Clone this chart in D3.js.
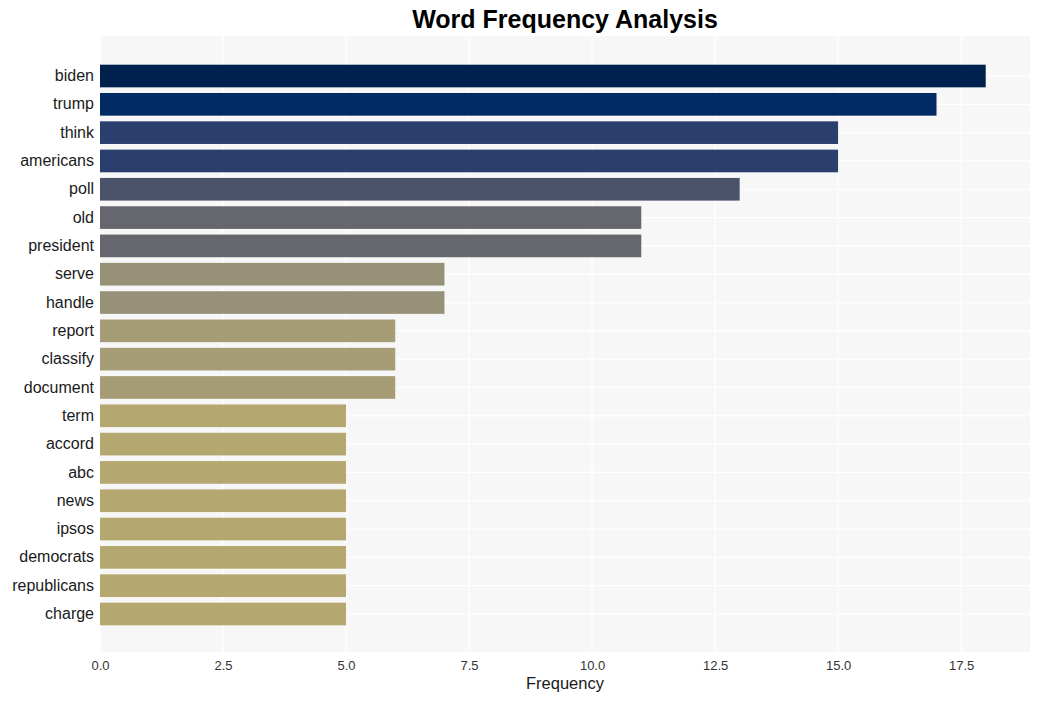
<!DOCTYPE html>
<html>
<head>
<meta charset="utf-8">
<script src="https://cdn.jsdelivr.net/npm/d3@7"></script>
<style>
  html, body { margin: 0; padding: 0; background: #ffffff; }
  svg { display: block; font-family: "Liberation Sans", Arial, sans-serif; }
</style>
</head>
<body>
<svg id="chart" width="1039" height="701"></svg>
<script>
const words = ["biden","trump","think","americans","poll","old","president","serve","handle","report","classify","document","term","accord","abc","news","ipsos","democrats","republicans","charge"];
const counts = [18,17,15,15,13,11,11,7,7,6,6,6,5,5,5,5,5,5,5,5];
const barColors = ["#00204d","#002b64","#2a3f6e","#2a3f6e","#4a536a","#66666f","#66666f","#979177","#979177","#a69c75","#a69c75","#a69c75","#b4a76f","#b4a76f","#b4a76f","#b4a76f","#b4a76f","#b4a76f","#b4a76f","#b4a76f"];
const xTicks = [0, 2.5, 5, 7.5, 10, 12.5, 15, 17.5];

const svg = d3.select("#chart");
const panel = {left: 100, right: 1030, top: 36, bottom: 652};

const x = d3.scaleLinear().domain([0, 18.9]).range([panel.left, panel.right]);
const y = d3.scaleBand().domain(words).range([panel.top + 1, panel.bottom + 1])
  .paddingInner(0.2).paddingOuter(0.978);

// panel background
svg.append("rect")
  .attr("x", panel.left).attr("y", panel.top)
  .attr("width", panel.right - panel.left).attr("height", panel.bottom - panel.top)
  .attr("fill", "#f7f7f7");

// grid lines
const grid = svg.append("g");
grid.selectAll("line.major").data(xTicks).join("line")
  .attr("x1", d => x(d)).attr("x2", d => x(d))
  .attr("y1", panel.top).attr("y2", panel.bottom)
  .attr("stroke", "#ffffff").attr("stroke-width", 1.2);
grid.selectAll("line.h").data(words).join("line")
  .attr("x1", panel.left).attr("x2", panel.right)
  .attr("y1", d => y(d) + y.bandwidth() / 2).attr("y2", d => y(d) + y.bandwidth() / 2)
  .attr("stroke", "#ffffff").attr("stroke-width", 1.2);

// bars
svg.append("g").selectAll("rect").data(words).join("rect")
  .attr("x", x(0))
  .attr("y", d => y(d))
  .attr("width", (d, i) => x(counts[i]) - x(0))
  .attr("height", y.bandwidth())
  .attr("fill", (d, i) => barColors[i]);

// x axis
const xAxis = svg.append("g")
  .attr("transform", `translate(0,${panel.bottom})`)
  .call(d3.axisBottom(x).tickValues(xTicks).tickFormat(d3.format(".1f")).tickSize(0).tickPadding(9));
xAxis.select(".domain").remove();
xAxis.selectAll("text").attr("font-size", 13).attr("fill", "#333333")
  .attr("font-family", "'Liberation Sans', Arial, sans-serif");

// y axis
const yAxis = svg.append("g")
  .attr("transform", `translate(${panel.left},0)`)
  .call(d3.axisLeft(y).tickSize(0).tickPadding(6));
yAxis.select(".domain").remove();
yAxis.selectAll("text").attr("font-size", 16).attr("fill", "#1a1a1a")
  .attr("font-family", "'Liberation Sans', Arial, sans-serif");

// axis title
svg.append("text")
  .attr("x", (panel.left + panel.right) / 2).attr("y", 689)
  .attr("text-anchor", "middle").attr("font-size", 16.5).attr("fill", "#1a1a1a")
  .text("Frequency");

// chart title
svg.append("text")
  .attr("x", (panel.left + panel.right) / 2).attr("y", 28)
  .attr("text-anchor", "middle").attr("font-size", 25).attr("font-weight", "bold")
  .attr("fill", "#000000")
  .text("Word Frequency Analysis");
</script>
</body>
</html>
